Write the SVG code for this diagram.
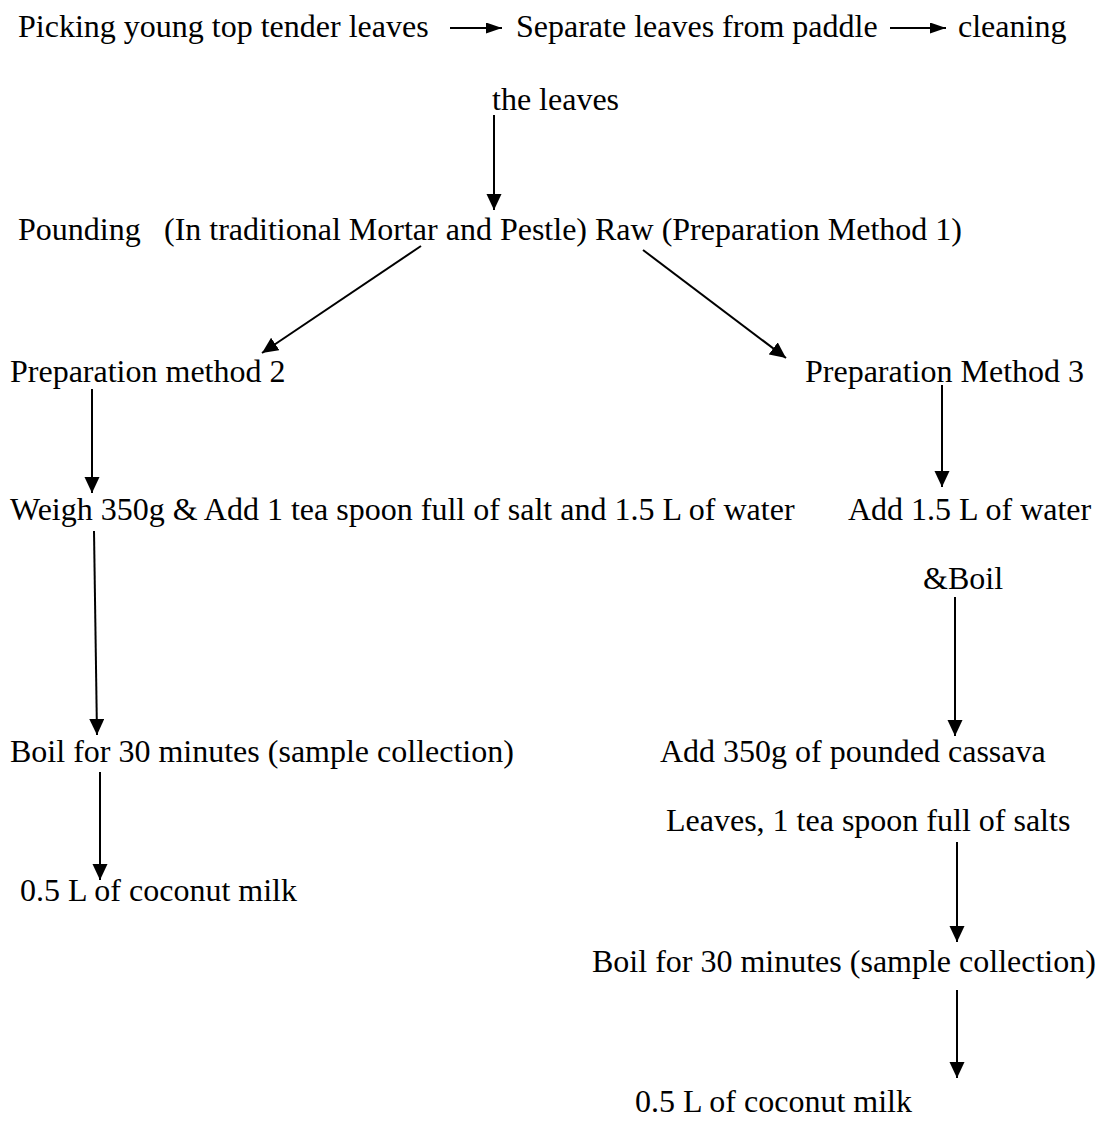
<svg xmlns="http://www.w3.org/2000/svg" width="1103" height="1142" viewBox="0 0 1103 1142">
<defs>
<style>
text{font-family:"Liberation Serif","Times New Roman",serif;font-size:32px;fill:#000}
.c{stroke:#000;stroke-width:2;fill:none}
.v{marker-end:url(#ah)}
.h{marker-end:url(#ahs)}
</style>
<marker id="ah" markerWidth="15" markerHeight="16" refX="16" refY="7.5" orient="auto" markerUnits="userSpaceOnUse"><path d="M0,0 L16,7.5 L0,15 z" fill="#000"/></marker>
<marker id="ahs" markerWidth="16" markerHeight="11" refX="16" refY="5.5" orient="auto" markerUnits="userSpaceOnUse"><path d="M0,0 L16,5.5 L0,11 z" fill="#000"/></marker>
</defs>
<rect width="1103" height="1142" fill="#fff"/>
<g id="n-picking"><text x="18" y="37">Picking young top tender leaves</text></g>
<g id="n-separate"><text x="516" y="37">Separate leaves from paddle</text></g>
<g id="n-cleaning"><text x="958" y="37">cleaning</text><text x="492" y="110">the leaves</text></g>
<g id="n-pounding"><text x="18" y="240">Pounding<tspan x="164">(In traditional Mortar and Pestle) Raw (Preparation Method 1)</tspan></text></g>
<g id="n-prep2"><text x="10" y="382">Preparation method 2</text></g>
<g id="n-prep3"><text x="805" y="382">Preparation Method 3</text></g>
<g id="n-weigh"><text x="10" y="520">Weigh 350g &amp; Add 1 tea spoon full of salt and 1.5 L of water</text></g>
<g id="n-addwater"><text x="848" y="520">Add 1.5 L of water</text><text x="923" y="589">&amp;Boil</text></g>
<g id="n-boil-left"><text x="10" y="762">Boil for 30 minutes (sample collection)</text></g>
<g id="n-coconut-left"><text x="20" y="901">0.5 L of coconut milk</text></g>
<g id="n-addcassava"><text x="660" y="762">Add 350g of pounded cassava</text><text x="666" y="831">Leaves, 1 tea spoon full of salts</text></g>
<g id="n-boil-right"><text x="592" y="972">Boil for 30 minutes (sample collection)</text></g>
<g id="n-coconut-right"><text x="635" y="1112">0.5 L of coconut milk</text></g>
<g id="connectors">
<line class="c h" x1="450" y1="28" x2="502" y2="28"/>
<line class="c h" x1="890" y1="28" x2="946" y2="28"/>
<line class="c v" x1="494" y1="115" x2="494" y2="210"/>
<line class="c v" x1="421" y1="246" x2="262" y2="353"/>
<line class="c v" x1="643" y1="250" x2="786" y2="358"/>
<line class="c v" x1="92" y1="389" x2="92" y2="493"/>
<line class="c v" x1="942" y1="385" x2="942" y2="487"/>
<line class="c v" x1="94" y1="531" x2="97" y2="735"/>
<line class="c v" x1="955" y1="597" x2="955" y2="736"/>
<line class="c v" x1="100" y1="772" x2="100" y2="880"/>
<line class="c v" x1="957" y1="842" x2="957" y2="942"/>
<line class="c v" x1="957" y1="990" x2="957" y2="1078"/>
</g>
</svg>
